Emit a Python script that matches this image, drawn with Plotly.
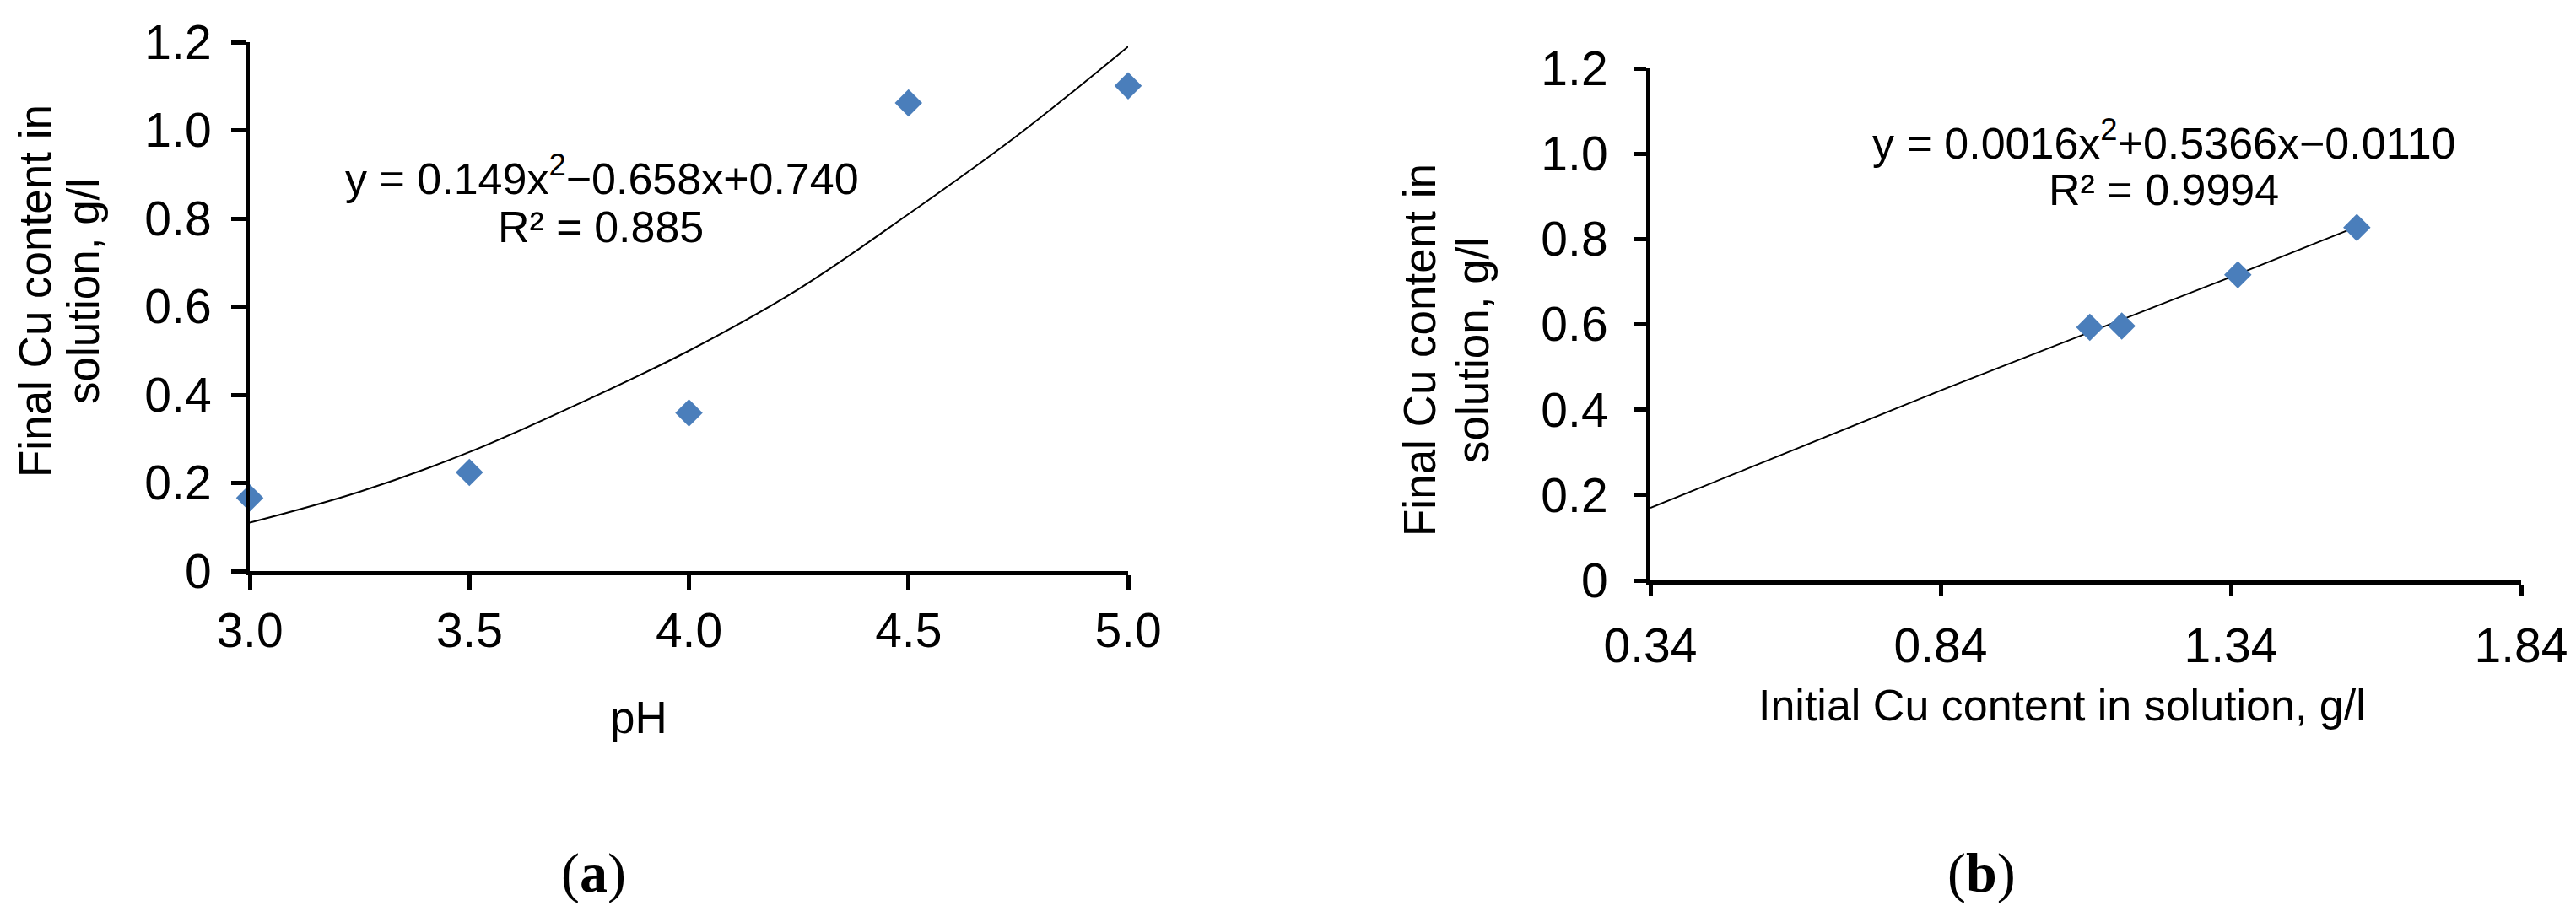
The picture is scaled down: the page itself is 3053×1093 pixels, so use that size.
import plotly.graph_objects as go

# ---- data ----
ph = [3.0, 3.5, 4.0, 4.5, 5.0]
cu_final_a = [0.166, 0.224, 0.359, 1.062, 1.101]

# trendline (a)
trend_a_x = [3.0, 3.25, 3.5, 3.75, 4.0, 4.25, 4.5, 4.75, 5.0]
trend_a_y = [0.11, 0.18, 0.27, 0.38, 0.50, 0.64, 0.81, 0.99, 1.19]

cu_initial = [0.337, 1.097, 1.152, 1.352, 1.557]
cu_final_b = [0.175, 0.593, 0.596, 0.716, 0.827]

# trendline (b)
trend_b_x = [0.34, 0.84, 1.34, 1.55]
trend_b_y = [0.17, 0.445, 0.711, 0.825]

ph_ticks = [3.0, 3.5, 4.0, 4.5, 5.0]
ph_ticktext = ["3.0", "3.5", "4.0", "4.5", "5.0"]
init_ticks = [0.34, 0.84, 1.34, 1.84]
init_ticktext = ["0.34", "0.84", "1.34", "1.84"]
y_ticks = [0, 0.2, 0.4, 0.6, 0.8, 1.0, 1.2]
y_ticktext = ["0", "0.2", "0.4", "0.6", "0.8", "1.0", "1.2"]

eq_a = ["y = 0.149x<sup>2</sup>\u22120.658x+0.740", "R\u00b2 = 0.885"]
eq_b = ["y = 0.0016x<sup>2</sup>+0.5366x\u22120.0110", "R\u00b2 = 0.9994"]
ytitle_lines = ["Final Cu content in", "solution, g/l"]

W, H = 3053, 1093
OFF = 8  # default body margin of the html page
FW, FH = W - 2 * OFF, H - 2 * OFF
BLUE = "#4A7EBB"
FONT = "Liberation Sans, Arial, sans-serif"


# page pixel -> paper fraction
def px(x):
    return (x - OFF) / FW


def py(y):
    return (FH - (y - OFF)) / FH


fig = go.Figure()

fig.add_trace(go.Scatter(x=trend_a_x, y=trend_a_y, mode="lines", line=dict(color="black", width=2, shape="spline"),
                         xaxis="x", yaxis="y", cliponaxis=False, showlegend=False))
fig.add_trace(go.Scatter(x=ph, y=cu_final_a, mode="markers",
                         marker=dict(symbol="diamond", size=25, color=BLUE),
                         xaxis="x", yaxis="y", cliponaxis=False, showlegend=False))
fig.add_trace(go.Scatter(x=trend_b_x, y=trend_b_y, mode="lines", line=dict(color="black", width=2),
                         xaxis="x2", yaxis="y2", cliponaxis=False, showlegend=False))
fig.add_trace(go.Scatter(x=cu_initial, y=cu_final_b, mode="markers",
                         marker=dict(symbol="diamond", size=25, color=BLUE),
                         xaxis="x2", yaxis="y2", cliponaxis=False, showlegend=False))

axis_common = dict(showgrid=False, zeroline=False, showline=True, linecolor="black", linewidth=5,
                   ticks="outside", tickcolor="black", tickwidth=5, automargin=False,
                   tickfont=dict(family=FONT, size=57, color="black"))

fig.update_layout(
    width=FW, height=FH,
    template="none",
    plot_bgcolor="white", paper_bgcolor="white",
    margin=dict(l=0, r=0, t=0, b=0),
    xaxis=dict(domain=[px(296), px(1337)], range=[3.0, 5.0], anchor="y",
               tickvals=ph_ticks, ticktext=ph_ticktext, ticklen=17, ticklabelstandoff=0, **axis_common),
    yaxis=dict(domain=[py(677), py(50)], range=[0, 1.2], anchor="x",
               tickvals=y_ticks, ticktext=y_ticktext, ticklen=17, ticklabelstandoff=12, **axis_common),
    xaxis2=dict(domain=[px(1956), px(2988)], range=[0.34, 1.84], anchor="y2",
                tickvals=init_ticks, ticktext=init_ticktext, ticklen=13, ticklabelstandoff=11, **axis_common),
    yaxis2=dict(domain=[py(688), py(81)], range=[0, 1.2], anchor="x2",
                tickvals=y_ticks, ticktext=y_ticktext, ticklen=14, ticklabelstandoff=20, **axis_common),
)

annotations = []


def note(text, x, y, size, angle=0, family=FONT):
    annotations.append(dict(text=text, x=px(x), y=py(y), xref="paper", yref="paper",
                            showarrow=False, xanchor="center", yanchor="middle", textangle=angle,
                            font=dict(family=family, size=size, color="black")))


# y axis titles, two lines each
note(ytitle_lines[0], 41, 345, 53, -90)
note(ytitle_lines[1], 98, 345, 53, -90)
note(ytitle_lines[0], 1682, 415, 53, -90)
note(ytitle_lines[1], 1745, 415, 53, -90)

# x axis titles
note("pH", 757, 850, 53)
note("Initial Cu content in solution, g/l", 2444, 836, 52)

# trendline equations
note(eq_a[0], 713, 208, 52)
note(eq_a[1], 712, 269, 52)
note(eq_b[0], 2565, 166, 52)
note(eq_b[1], 2564, 225, 52)

# panel captions
note("(<b>a</b>)", 703, 1035, 66, family="Liberation Serif, Times New Roman, serif")
note("(<b>b</b>)", 2348, 1035, 66, family="Liberation Serif, Times New Roman, serif")

fig.update_layout(annotations=annotations)

fig.write_html("out.html")
